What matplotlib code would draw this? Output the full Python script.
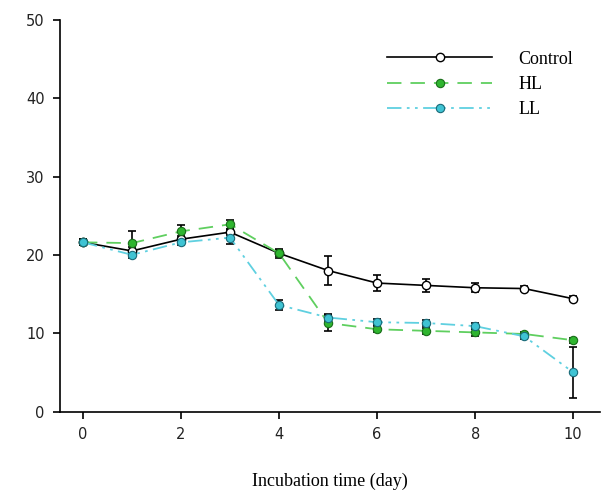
import matplotlib
matplotlib.use('Agg')
import matplotlib.pyplot as plt

# 数据
days = [0, 1, 2, 3, 4, 5, 6, 7, 8, 9, 10]
control = [21.6, 20.5, 22.0, 22.9, 20.2, 18.0, 16.4, 16.1, 15.8, 15.7, 14.4]
control_err = [0.4, 0.5, 0.4, 0.4, 0.4, 1.9, 1.0, 0.8, 0.6, 0.3, 0.3]
hl = [21.6, 21.5, 23.0, 23.9, 20.2, 11.3, 10.5, 10.3, 10.1, 9.9, 9.1]
hl_err = [0.4, 1.5, 0.8, 0.6, 0.6, 1.0, 0.4, 0.4, 0.4, 0.3, 0.3]
ll = [21.6, 20.0, 21.6, 22.2, 13.6, 12.0, 11.4, 11.3, 10.9, 9.6, 5.0]
ll_err = [0.4, 0.4, 0.4, 0.8, 0.6, 0.4, 0.4, 0.4, 0.4, 0.4, 3.3]

fig = plt.figure(figsize=(6.05, 4.97), dpi=100)
ax = fig.add_axes([0.099, 0.172, 0.893, 0.788])

# 误差线（黑色）
for y, e in [(control, control_err), (hl, hl_err), (ll, ll_err)]:
    ax.errorbar(days, y, yerr=e, fmt='none', ecolor='black', elinewidth=1.2, capsize=3, capthick=1.2, zorder=2)

ax.plot(days, control, color='black', linewidth=1.2, marker='o', markersize=6,
        markerfacecolor='white', markeredgecolor='black', markeredgewidth=1, label='Control', zorder=3)
ax.plot(days, hl, color='#5fcf5f', linewidth=1.3, linestyle=(0, (8, 5)), marker='o', markersize=6,
        markerfacecolor='#2fb52f', markeredgecolor='#1a6e1a', markeredgewidth=0.8, label='HL', zorder=4)
ax.plot(days, ll, color='#5fd0e0', linewidth=1.3, linestyle=(0, (8, 3, 1.5, 3, 1.5, 3)), marker='o', markersize=6,
        markerfacecolor='#3fc3d3', markeredgecolor='#1a6a78', markeredgewidth=0.8, label='LL', zorder=5)

ax.set_xlim(-0.47, 10.55)
ax.set_ylim(0, 50)
ax.set_xticks([0, 2, 4, 6, 8, 10])
ax.set_yticks([0, 10, 20, 30, 40, 50])
ax.spines['top'].set_visible(False)
ax.spines['right'].set_visible(False)
ax.spines['left'].set_linewidth(1.2)
ax.spines['bottom'].set_linewidth(1.2)
ax.tick_params(direction='out', length=5, width=1.2, labelsize=10.5, pad=6)
for lab in ax.get_xticklabels() + ax.get_yticklabels():
    lab.set_family('DejaVu Sans')
    lab.set_color('#222222')

ax.set_xlabel('Incubation time (day)', family='Liberation Serif', fontsize=13, labelpad=22)

leg = ax.legend(loc='upper left', bbox_to_anchor=(0.606, 0.921), frameon=False,
                borderpad=0, borderaxespad=0,
                handlelength=5.8, handletextpad=1.44, labelspacing=0.45,
                prop={'family': 'Liberation Serif', 'size': 13})

fig.savefig('out.png', dpi=100)
